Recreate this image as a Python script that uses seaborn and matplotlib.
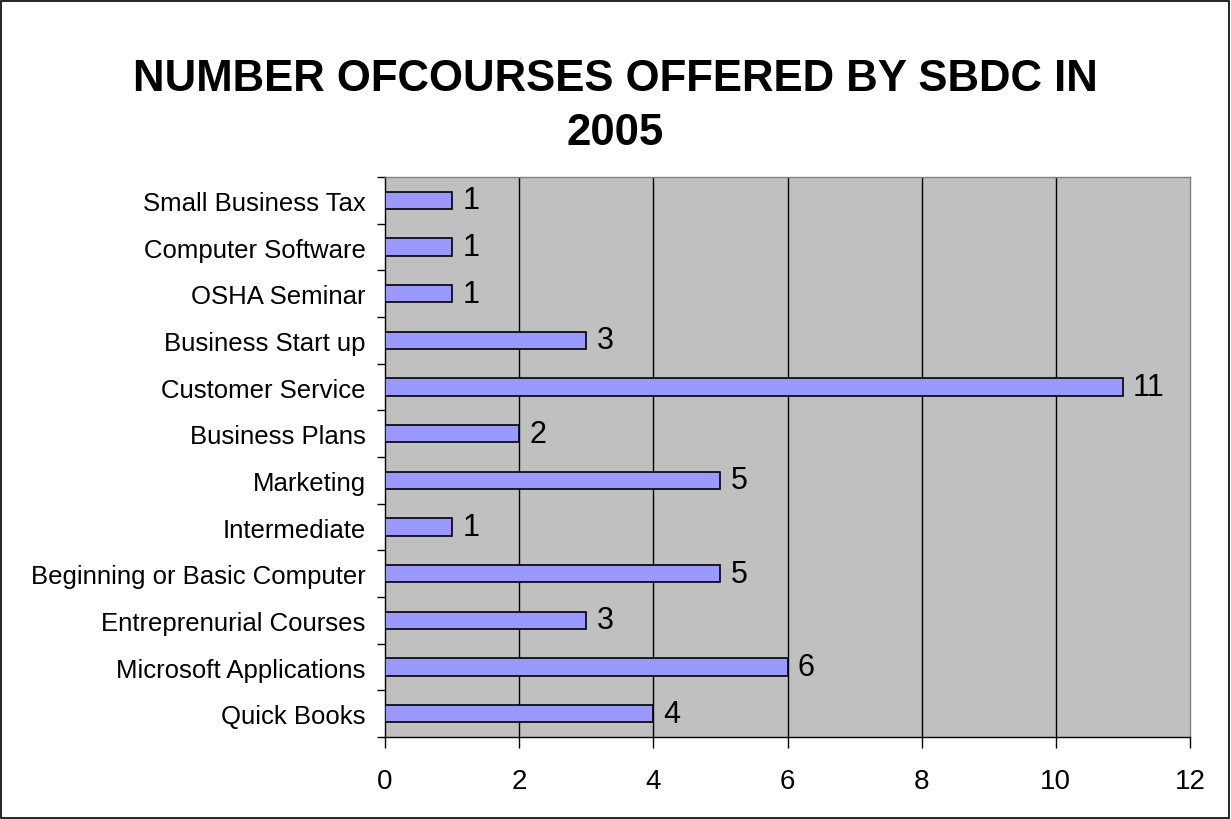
import matplotlib
matplotlib.use("Agg")
import matplotlib.pyplot as plt
import seaborn as sns
import pandas as pd
from matplotlib.patches import Rectangle

categories = ["Small Business Tax", "Computer Software", "OSHA Seminar", "Business Start up",
              "Customer Service", "Business Plans", "Marketing", "Intermediate",
              "Beginning or Basic Computer", "Entreprenurial Courses", "Microsoft Applications",
              "Quick Books"]
values = [1, 1, 1, 3, 11, 2, 5, 1, 5, 3, 6, 4]
x_ticks = [0, 2, 4, 6, 8, 10, 12]
title = "NUMBER OFCOURSES OFFERED BY SBDC IN\n2005"

sns.set_theme(style="white")
plt.rcParams['font.family'] = ['Liberation Sans', 'DejaVu Sans']
plt.rcParams['text.color'] = 'black'
plt.rcParams['xtick.color'] = 'black'
plt.rcParams['ytick.color'] = 'black'
plt.rcParams['axes.labelcolor'] = 'black'

df = pd.DataFrame({"course": categories, "count": values})

fig = plt.figure(figsize=(12.31, 8.2), dpi=100)
ax = fig.add_axes([0.3128, 0.1, 0.6539, 0.6829])
ax.set_facecolor("#C0C0C0")

sns.barplot(data=df, y="course", x="count", orient="h", color="#9999FF",
            edgecolor="black", linewidth=1.2, width=0.37, saturation=1, ax=ax, zorder=3)

ax.set_xlim(0, 12)
ax.set_ylim(len(categories) - 0.5, -0.5)
ax.set_xticks(x_ticks)
ax.set_xticklabels([str(t) for t in x_ticks], fontsize=20)
for t in x_ticks[1:-1]:
    ax.axvline(t, color="black", linewidth=1, zorder=1)

ax.set_yticks(range(len(categories)))
ax.set_yticklabels(categories, fontsize=18.5)
ax.tick_params(axis="y", length=0, pad=14)
ax.set_yticks([i - 0.5 for i in range(len(categories) + 1)], minor=True)
ax.tick_params(axis="y", which="minor", length=6, width=1, color="black", direction="out", left=True)
ax.tick_params(axis="x", length=8, width=1, color="black", direction="out", bottom=True, pad=14)
ax.set_xlabel("")
ax.set_ylabel("")

for s in ["top", "right"]:
    ax.spines[s].set_color("#808080")
    ax.spines[s].set_linewidth(1)
for s in ["left", "bottom"]:
    ax.spines[s].set_color("black")
    ax.spines[s].set_linewidth(1)

for i, v in enumerate(values):
    ax.text(v + 0.15, i, str(v), va="center", ha="left", fontsize=22, color="black")

fig.text(0.5, 0.87, title, ha="center", va="center", fontsize=31.5, fontweight="bold",
         linespacing=1.4, color="black")

fig.patches.append(Rectangle((0.001, 0.001), 0.997, 0.997, transform=fig.transFigure,
                             fill=False, edgecolor="black", linewidth=1.2))

fig.savefig("out.png", dpi=100, facecolor="white")
